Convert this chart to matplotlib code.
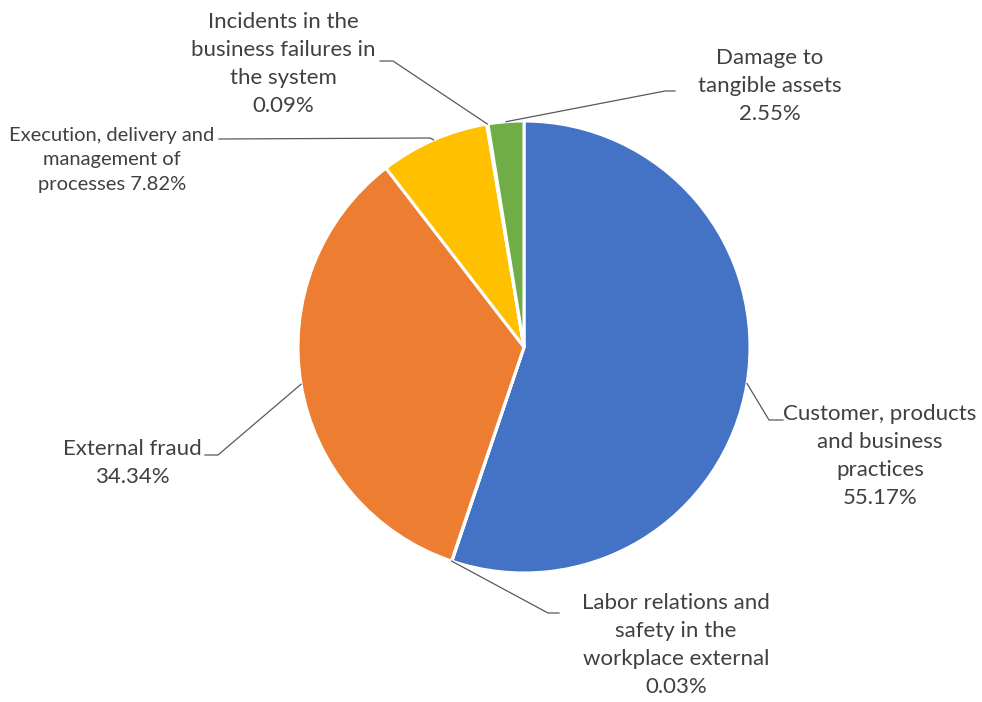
import numpy as np
import matplotlib.pyplot as plt

categories = [
    "Customer, products\nand business\npractices",
    "Labor relations and\nsafety in the\nworkplace external",
    "External fraud",
    "Execution, delivery and\nmanagement of\nprocesses",
    "Incidents in the\nbusiness failures in\nthe system",
    "Damage to\ntangible assets",
]
shares = [55.17, 0.03, 34.34, 7.82, 0.09, 2.55]
value_sep = ["\n", "\n", "\n", " ", "\n", "\n"]
colors = ["#4472C4", "#A5A5A5", "#ED7D31", "#FFC000", "#5B9BD5", "#70AD47"]

# pixel layout: pie centre and radius, label centre, elbow and line end
CX, CY, R = 524, 347, 226
W, H = 982, 702
label_pos = [(880, 456), (676, 645), (132, 463), (112, 160), (283, 64), (770, 86)]
label_size = [16, 16, 16, 14.5, 16, 16]
elbows = [(769, 420), (548, 613), (218, 455), (430, 138), (393, 61), (665, 91)]
line_ends = [(783, 420), (559, 613), (205, 455), (219, 139), (380, 61), (675, 91)]


def px(x, y):
    return (x - CX) / R, (CY - y) / R


fig = plt.figure(figsize=(W / 100, H / 100), dpi=100)
ax = fig.add_axes([0, 0, 1, 1])

wedges, _ = ax.pie(shares, colors=colors, startangle=90, counterclock=False,
                   radius=1, wedgeprops=dict(edgecolor="white", linewidth=2.2))

ax.set_xlim(-CX / R, (W - CX) / R)
ax.set_ylim(-(H - CY) / R, CY / R)
ax.set_aspect("equal")
ax.axis("off")

for i, w in enumerate(wedges):
    mid = np.deg2rad((w.theta1 + w.theta2) / 2)
    ax0, ay0 = np.cos(mid), np.sin(mid)
    ex, ey = px(*elbows[i])
    lx, ly = px(*line_ends[i])
    ax.plot([ax0, ex, lx], [ay0, ey, ly], color="#595959", lw=0.9,
            solid_joinstyle="miter")
    tx, ty = px(*label_pos[i])
    text = f"{categories[i]}{value_sep[i]}{shares[i]:.2f}%"
    ax.text(tx, ty, text, ha="center", va="center", fontsize=label_size[i],
            family="Lato", color="#404040",
            linespacing=1.5 * 16 / label_size[i] * 0.93 if label_size[i] < 16 else 1.5)

fig.savefig("out.png", dpi=100)
